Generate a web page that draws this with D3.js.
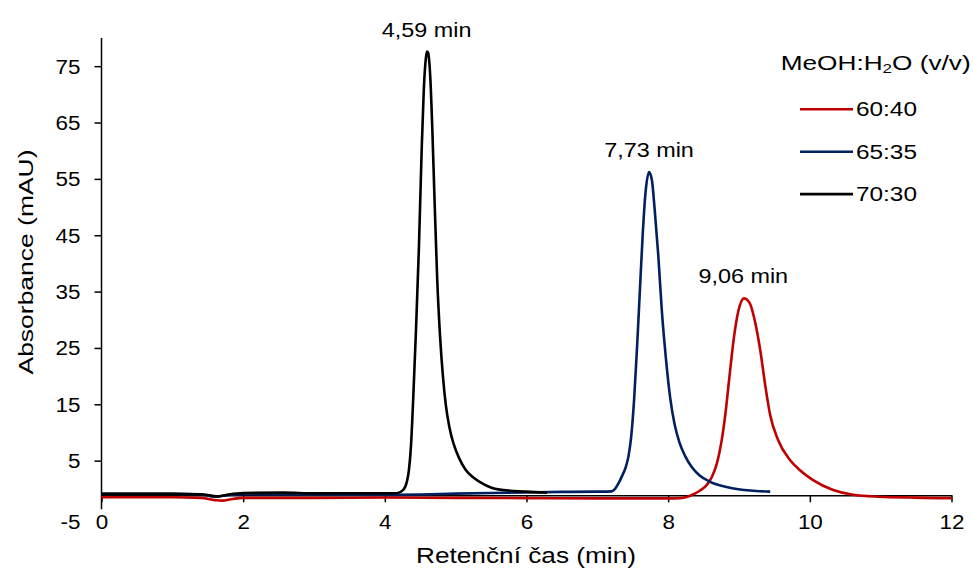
<!DOCTYPE html>
<html>
<head>
<meta charset="utf-8">
<script src="https://cdn.jsdelivr.net/npm/d3@7"></script>
<style>
body { margin: 0; background: #fff; }
text { font-family: Arial, "Liberation Sans", sans-serif; fill: #000; }
</style>
</head>
<body>
<div id="svg_container"></div>
<script>
/* -----------------------
data
------------------------- */

var seriesNames = ["60:40", "65:35", "70:30"];
var seriesColors = ["#c00000", "#002060", "#000000"];

// 60:40
var time_60_40 = [0, 1.0, 1.4, 1.6, 1.7, 1.85, 2.0, 3.0, 4.0, 5.0, 6.0, 7.0, 8.0, 8.17, 8.26, 8.35, 8.45, 8.54, 8.62, 8.69, 8.75, 8.81, 8.87, 8.93, 8.99, 9.07, 9.15, 9.22, 9.30, 9.37, 9.44, 9.55, 9.72, 9.86, 10.04, 10.33, 10.61, 10.99, 11.42, 11.93, 12.0];
var abs_60_40 = [-1.5, -1.5, -1.6, -2.0, -2.1, -1.8, -1.6, -1.6, -1.55, -1.6, -1.65, -1.7, -1.7, -1.65, -1.45, -1.0, -0.3, 0.6, 2.2, 4.6, 8.2, 13.5, 20.5, 27.0, 31.5, 33.8, 33.0, 30.0, 24.6, 18.4, 13.1, 8.7, 5.1, 3.3, 1.6, -0.2, -1.05, -1.4, -1.55, -1.65, -1.65];

// 65:35
var time_65_35 = [0, 1.0, 1.4, 1.6, 1.8, 2.0, 3.0, 4.0, 4.5, 5.0, 5.5, 6.0, 6.5, 7.0, 7.2, 7.25, 7.30, 7.35, 7.40, 7.44, 7.48, 7.52, 7.56, 7.60, 7.64, 7.68, 7.73, 7.77, 7.81, 7.86, 7.91, 7.97, 8.03, 8.09, 8.16, 8.24, 8.33, 8.44, 8.60, 8.87, 9.16, 9.44];
var abs_65_35 = [-0.9, -0.9, -1.0, -1.4, -1.1, -0.95, -1.0, -1.05, -1.0, -0.85, -0.75, -0.65, -0.55, -0.5, -0.45, 0.0, 1.0, 2.3, 3.8, 5.8, 9.5, 16.0, 25.0, 35.0, 45.0, 52.5, 56.2, 54.8, 49.5, 41.5, 31.7, 22.9, 16.0, 11.5, 8.2, 5.8, 3.9, 2.4, 1.2, 0.2, -0.3, -0.5];

// 70:30
var time_70_30 = [0, 0.5, 1.0, 1.4, 1.55, 1.65, 1.8, 2.0, 2.57, 3.0, 3.5, 4.0, 4.17, 4.26, 4.31, 4.34, 4.37, 4.40, 4.44, 4.48, 4.52, 4.55, 4.58, 4.595, 4.61, 4.64, 4.67, 4.70, 4.74, 4.78, 4.82, 4.86, 4.91, 4.97, 5.05, 5.14, 5.25, 5.40, 5.60, 6.00, 6.29];
var abs_70_30 = [-0.9, -0.9, -0.9, -0.95, -1.2, -1.35, -1.0, -0.75, -0.68, -0.8, -0.8, -0.8, -0.78, -0.2, 1.2, 3.3, 7.8, 15.8, 28.2, 42.4, 60.1, 70.8, 76.5, 77.6, 77.4, 73.4, 64.0, 52.0, 37.0, 27.0, 20.0, 15.0, 11.0, 8.0, 5.4, 3.4, 2.0, 0.8, -0.1, -0.5, -0.7];

var peakTimes = [4.59, 7.73, 9.06];
var peakHeights = [77.6, 56.3, 33.8];

var xTicks = [0, 2, 4, 6, 8, 10, 12];
var yTicks = [-5, 5, 15, 25, 35, 45, 55, 65, 75];

/* -----------------------
main variables
------------------------- */

var width = 973,
height = 571;

var margin = {top: 38, right: 21.5, bottom: 54, left: 101.5},
nomargin_w = width - (margin.left + margin.right),
nomargin_h = height - (margin.top + margin.bottom);

var axisCross = -1.15; // where the time axis crosses the absorbance axis
var sx = 1.15;         // the reference text is drawn wider than Arial

/* -----------------------
set plot
------------------------- */

var svg = d3.select("#svg_container")
	.append("svg")
	.attr("width", width)
	.attr("height", height)
	.attr("viewBox", '0 0 ' + width + ' ' + height);

var plot = svg.append("g")
    .attr("id", "d3_plot")
    .attr("transform", "translate(" + margin.left + "," + margin.top + ")");

var x = d3.scaleLinear()
    .domain([0, 12])
    .range([0, nomargin_w]);

var y = d3.scaleLinear()
    .domain([-5, 80])
    .range([nomargin_h, 0]);

/* -----------------------
axes
------------------------- */

var yAxis = plot.append("g")
    .attr("class", "axis axis-y")
    .call(d3.axisLeft(y).tickValues(yTicks).tickSize(7).tickSizeOuter(0))
    .attr("font-size", null)
    .attr("font-family", null);

yAxis.select(".domain").remove();
yAxis.selectAll(".tick").filter(function(d) { return d === -5; }).select("line").remove();
yAxis.selectAll(".tick line").attr("stroke", "#000").attr("stroke-width", 1.5);
yAxis.selectAll(".tick text")
    .attr("x", null)
    .attr("dy", null)
    .attr("font-size", 19.5)
    .attr("transform", function(d) {
        // the bottom label sits on the row of the time labels
        return "translate(-21," + (d === -5 ? 11.5 : 7) + ") scale(" + sx + ",1)";
    })
    .text(function(d) { return String(d); });

yAxis.append("line")
    .attr("x1", 0).attr("x2", 0)
    .attr("y1", y(80))
    .attr("y2", y(axisCross) + 14)
    .attr("stroke", "#000")
    .attr("stroke-width", 1.5);

var xAxis = plot.append("g")
    .attr("class", "axis axis-x")
    .attr("transform", "translate(0," + y(axisCross) + ")")
    .call(d3.axisBottom(x).tickValues(xTicks).tickSize(7).tickSizeOuter(0))
    .attr("font-size", null)
    .attr("font-family", null);

xAxis.select(".domain").attr("stroke", "#000").attr("stroke-width", 1.5);
xAxis.selectAll(".tick line").attr("stroke", "#000").attr("stroke-width", 1.5);
xAxis.selectAll(".tick text")
    .attr("y", null)
    .attr("dy", null)
    .attr("font-size", 19.5)
    .attr("transform", "translate(0,33.5) scale(" + sx + ",1)");

// axis titles
svg.append("text")
    .attr("x", 526)
    .attr("y", 563)
    .attr("font-size", 22)
    .attr("text-anchor", "middle")
    .attr("textLength", 220)
    .attr("lengthAdjust", "spacingAndGlyphs")
    .text("Retenční čas (min)");

svg.append("text")
    .attr("transform", "translate(33,262) rotate(-90)")
    .attr("font-size", 21)
    .attr("text-anchor", "middle")
    .attr("textLength", 225)
    .attr("lengthAdjust", "spacingAndGlyphs")
    .text("Absorbance (mAU)");

/* -----------------------
series
------------------------- */

var seriesData = [
    d3.zip(time_60_40, abs_60_40),
    d3.zip(time_65_35, abs_65_35),
    d3.zip(time_70_30, abs_70_30)
];

var line = d3.line()
    .curve(d3.curveMonotoneX)
    .x(function(d) { return x(d[0]); })
    .y(function(d) { return y(d[1]); });

plot.selectAll(".line")
    .data(seriesData)
    .enter()
    .append("path")
    .attr("class", "line")
    .attr("d", line)
    .attr("stroke", function(d, i) { return seriesColors[i]; })
    .attr("fill", "none")
    .attr("stroke-width", 2.6)
    .attr("stroke-linejoin", "round");

// peak labels
var fmt = d3.format(".2f");
plot.selectAll(".peak-label")
    .data(peakTimes)
    .enter()
    .append("text")
    .attr("class", "peak-label")
    .attr("font-size", 19.5)
    .attr("text-anchor", "middle")
    .attr("transform", function(d, i) {
        return "translate(" + x(d) + "," + (y(peakHeights[i]) - 15) + ") scale(1.2,1)";
    })
    .text(function(d) { return fmt(d).replace(".", ",") + " min"; });

/* -----------------------
legend
------------------------- */

var legend = svg.append("g").attr("class", "legend");

var ttl = legend.append("text")
    .attr("x", 780.7)
    .attr("y", 70)
    .attr("font-size", 20)
    .attr("textLength", 190)
    .attr("lengthAdjust", "spacingAndGlyphs");
ttl.append("tspan").text("MeOH:H");
ttl.append("tspan").attr("font-size", 13).attr("dy", 3).text("2");
ttl.append("tspan").attr("dy", -3).text("O (v/v)");

var items = legend.selectAll(".item")
    .data(seriesNames)
    .enter()
    .append("g")
    .attr("class", "item")
    .attr("transform", function(d, i) { return "translate(800," + (109.3 + i * 42.4) + ")"; });

items.append("line")
    .attr("x1", 0).attr("x2", 53)
    .attr("stroke", function(d, i) { return seriesColors[i]; })
    .attr("stroke-width", 2.6);

items.append("text")
    .attr("font-size", 19.5)
    .attr("transform", "translate(56,7) scale(1.25,1)")
    .text(function(d) { return d; });
</script>
</body>
</html>
